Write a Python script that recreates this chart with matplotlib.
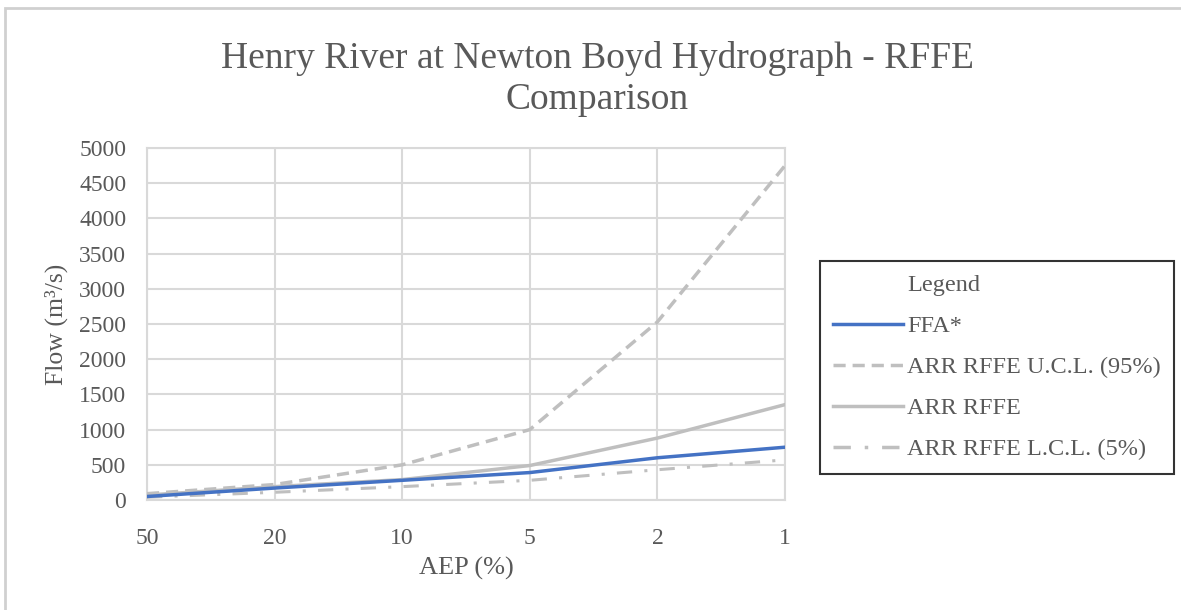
import matplotlib.pyplot as plt
from matplotlib.lines import Line2D
from matplotlib.patches import Rectangle

# AEP categories (%), equally spaced like an Excel category axis
aep_labels = ["50", "20", "10", "5", "2", "1"]

# Flows (m3/s)
ffa = [50, 170, 280, 390, 600, 750]
ucl = [90, 220, 500, 1000, 2530, 4750]
rffe = [70, 190, 290, 490, 880, 1355]
lcl = [40, 110, 190, 280, 430, 570]

text_col = "#595959"
grey = "#BFBFBF"
blue = "#4472C4"

plt.rcParams['font.family'] = ['Liberation Serif', 'DejaVu Serif']

fig = plt.figure(figsize=(11.81, 6.10), dpi=100)
ax = fig.add_axes([0.1245, 0.1803, 0.5402, 0.5771])

x = list(range(len(aep_labels)))
ax.plot(x, ffa, color=blue, lw=2.5, zorder=5)
ax.plot(x, ucl, color=grey, lw=2.5, linestyle=(0, (3.5, 2)), zorder=4)
ax.plot(x, rffe, color=grey, lw=2.5, zorder=4)
ax.plot(x, lcl, color=grey, lw=2.2, linestyle=(0, (5, 4, 1, 4)), zorder=4)

ax.set_xlim(0, len(aep_labels) - 1)
ax.set_ylim(0, 5000)
ax.set_xticks(x)
ax.set_xticklabels(aep_labels)
ax.set_yticks(range(0, 5001, 500))
ax.grid(True, color="#D9D9D9", lw=1.5)
ax.set_axisbelow(True)
ax.tick_params(length=0, labelsize=17, colors=text_col)
ax.tick_params(axis='y', pad=15)
ax.tick_params(axis='x', pad=20)
for s in ax.spines.values():
    s.set_color("#D9D9D9")
    s.set_linewidth(1.5)

ax.set_xlabel("AEP (%)", fontsize=19, color=text_col, labelpad=6)
ax.set_ylabel("Flow (m³/s)", fontsize=18.5, color=text_col, labelpad=8)

fig.text(0.5055, 0.904, "Henry River at Newton Boyd Hydrograph - RFFE",
         ha='center', va='center', fontsize=27, color=text_col)
fig.text(0.5055, 0.836, "Comparison",
         ha='center', va='center', fontsize=27, color=text_col)

# legend with "Legend" as a first blank entry
handles = [
    Line2D([], [], color='none'),
    Line2D([], [], color=blue, lw=2.5),
    Line2D([], [], color=grey, lw=2.5, linestyle=(0, (3.5, 2))),
    Line2D([], [], color=grey, lw=2.5),
    Line2D([], [], color=grey, lw=2.5, linestyle=(0, (5, 4, 1, 4))),
]
labels = ["Legend", "FFA*", "ARR RFFE U.C.L. (95%)", "ARR RFFE", "ARR RFFE L.C.L. (5%)"]
leg = fig.legend(handles, labels, loc='upper left', bbox_to_anchor=(0.694, 0.572),
                 fontsize=17.5, frameon=True, fancybox=False, handlelength=2.9,
                 handletextpad=0.15, labelspacing=0.78, borderpad=0.55,
                 borderaxespad=0, labelcolor=text_col)
leg.get_frame().set_edgecolor('black')
leg.get_frame().set_linewidth(1.5)

# outer chart border
fig.patches.append(Rectangle((5 / 1181, -0.1), 1.2, 1.1 - 8 / 610,
                             transform=fig.transFigure, fill=False,
                             edgecolor="#D0D0D0", lw=2))

fig.savefig("out.png", dpi=100)
